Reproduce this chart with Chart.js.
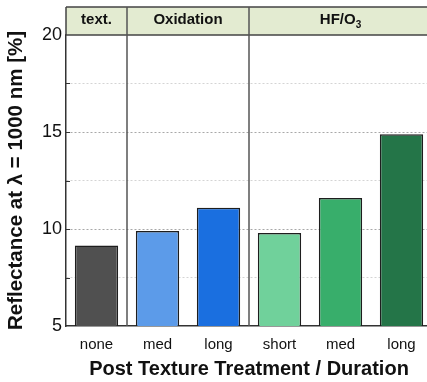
<!DOCTYPE html>
<html>
<head>
<meta charset="utf-8">
<script src="https://cdn.jsdelivr.net/npm/chart.js@4.4.1/dist/chart.umd.min.js"></script>
<style>
    html, body { margin: 0; padding: 0; overflow: hidden; background: #fff; }
    #wrap { width: 432px; height: 382px; }
</style>
</head>
<body>
<div id="wrap"><canvas id="reflChart" width="432" height="382"></canvas></div>
<script>
const categories = ["none", "med", "long", "short", "med", "long"];
const reflectance = [9.15, 9.9, 11.1, 9.8, 11.6, 14.88];
const barColors = ["#505050", "#5c9be9", "#1a6fe0", "#70d19b", "#38ae6b", "#247548"];
const groupLabels = ["text.", "Oxidation", "HF/O"];
const groupSubs = ["", "", "3"];
const groupStarts = [0, 1, 3];
const groupEnds = [0, 2, 5];
const yTicks = [5, 10, 15, 20];

// Kopfzeile mit den Behandlungsgruppen
const headerPlugin = {
    id: "header",
    beforeDraw(chart) {
        const { ctx, chartArea } = chart;
        ctx.save();
        ctx.fillStyle = "#e3ebd1";
        ctx.fillRect(chartArea.left, 7, chartArea.right - chartArea.left, chartArea.top - 7);
        ctx.restore();
    },
    afterDraw(chart) {
        const { ctx, chartArea } = chart;
        const x = chart.scales.x;
        const y = chart.scales.y;
        ctx.save();
        ctx.strokeStyle = "#444";
        ctx.lineWidth = 1.5;
        ctx.beginPath();
        ctx.moveTo(chartArea.left, 7);
        ctx.lineTo(chartArea.right, 7);
        ctx.moveTo(chartArea.left, chartArea.top);
        ctx.lineTo(chartArea.right, chartArea.top);
        ctx.moveTo(chartArea.left, 7);
        ctx.lineTo(chartArea.left, chartArea.top);
        ctx.stroke();

        // Trennlinien zwischen den Gruppen
        ctx.strokeStyle = "#555";
        for (let g = 1; g < groupStarts.length; g++) {
            const px = (x.getPixelForValue(groupStarts[g] - 1) + x.getPixelForValue(groupStarts[g])) / 2;
            ctx.beginPath();
            ctx.moveTo(px, 7);
            ctx.lineTo(px, chartArea.bottom);
            ctx.stroke();
        }

        // kleine Ticks nach innen
        ctx.strokeStyle = "#333";
        ctx.lineWidth = 1;
        for (let v = 7.5; v < 20; v += 2.5) {
            const py = Math.round(y.getPixelForValue(v)) + 0.5;
            ctx.beginPath();
            ctx.moveTo(chartArea.left, py);
            ctx.lineTo(chartArea.left + 4, py);
            ctx.stroke();
        }

        ctx.fillStyle = "#111";
        ctx.textBaseline = "middle";
        const cy = (7 + chartArea.top) / 2;
        for (let g = 0; g < groupLabels.length; g++) {
            const l = g === 0 ? chartArea.left : (x.getPixelForValue(groupStarts[g] - 1) + x.getPixelForValue(groupStarts[g])) / 2;
            const r = g === groupLabels.length - 1 ? chartArea.right : (x.getPixelForValue(groupEnds[g]) + x.getPixelForValue(groupEnds[g] + 1)) / 2;
            const cx = (l + r) / 2;
            ctx.font = "bold 15px 'Liberation Sans', Arial, sans-serif";
            const w1 = ctx.measureText(groupLabels[g]).width;
            ctx.font = "bold 10px 'Liberation Sans', Arial, sans-serif";
            const w2 = groupSubs[g] ? ctx.measureText(groupSubs[g]).width : 0;
            const start = cx - (w1 + w2) / 2;
            ctx.textAlign = "left";
            ctx.font = "bold 15px 'Liberation Sans', Arial, sans-serif";
            ctx.fillText(groupLabels[g], start, cy - 1);
            if (groupSubs[g]) {
                ctx.font = "bold 10px 'Liberation Sans', Arial, sans-serif";
                ctx.fillText(groupSubs[g], start + w1, cy + 4);
            }
        }
        ctx.restore();
    }
};

const ctx = document.getElementById("reflChart").getContext("2d");
new Chart(ctx, {
    type: "bar",
    data: {
        labels: categories,
        datasets: [{
            data: reflectance,
            backgroundColor: barColors,
            borderColor: "#1e1e1e",
            borderWidth: 1.5,
            borderSkipped: "bottom",
            barPercentage: 0.71,
            categoryPercentage: 1
        }]
    },
    options: {
        responsive: false,
        animation: false,
        events: [],
        layout: { padding: { top: 35, right: 0, left: 0, bottom: 0 } },
        plugins: { legend: { display: false }, tooltip: { enabled: false } },
        scales: {
            x: {
                grid: { display: false },
                border: { display: true, color: "#333", width: 1.5 },
                ticks: {
                    color: "#111",
                    padding: 2,
                    font: { family: "'Liberation Sans', Arial, sans-serif", size: 15 }
                },
                title: {
                    display: true,
                    text: "Post Texture Treatment / Duration",
                    color: "#111",
                    padding: { top: 2, bottom: 1 },
                    font: { family: "'Liberation Sans', Arial, sans-serif", size: 20, weight: "bold" }
                },
                afterFit(scale) { scale.height = 56; }
            },
            y: {
                min: 5,
                max: 20,
                afterBuildTicks(scale) {
                    scale.ticks = [];
                    for (let v = 5; v <= 20; v += 2.5) scale.ticks.push({ value: v });
                },
                grid: {
                    drawTicks: false,
                    lineWidth: 1,
                    color(c) {
                        const v = c.tick ? c.tick.value : 0;
                        if (v === 5 || v === 20) return "rgba(0,0,0,0)";
                        return v % 5 === 0 ? "#a8a8a8" : "#d4d4d4";
                    }
                },
                border: { display: true, color: "#333", width: 1.5, dash: [2, 2] },
                ticks: {
                    color: "#111",
                    padding: 4,
                    font: { family: "'Liberation Sans', Arial, sans-serif", size: 18 },
                    callback(v) { return yTicks.includes(v) ? String(v) : ""; }
                },
                title: {
                    display: true,
                    text: "Reflectance at λ = 1000 nm [%]",
                    color: "#111",
                    padding: { top: 4, bottom: 0 },
                    font: { family: "'Liberation Sans', Arial, sans-serif", size: 20.5, weight: "bold" }
                },
                afterFit(scale) { scale.width = 66; }
            }
        }
    },
    plugins: [headerPlugin]
});
</script>
</body>
</html>
